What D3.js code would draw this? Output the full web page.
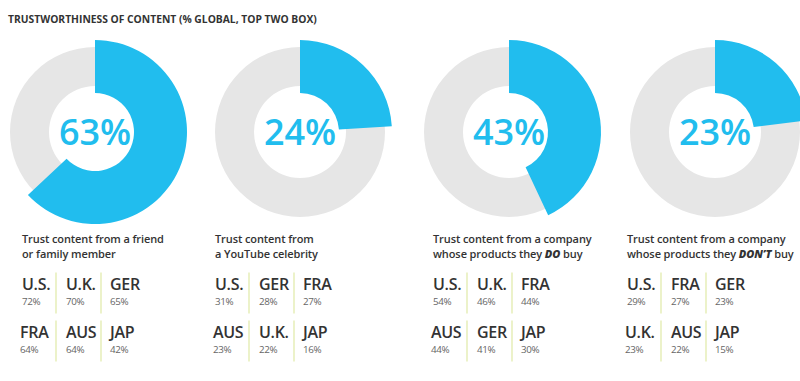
<!DOCTYPE html>
<html><head><meta charset="utf-8">
<script src="https://cdn.jsdelivr.net/npm/d3@7"></script>
<style>
html,body{margin:0;padding:0;background:#fff;}
svg{display:block;font-family:"Open Sans",sans-serif;}
</style></head>
<body><svg id="c" width="800" height="381"></svg>
<script>
const title = "TRUSTWORTHINESS OF CONTENT (% GLOBAL, TOP TWO BOX)";
const globalValues = [63, 24, 43, 23];
const captionLine1 = ["Trust content from a friend", "Trust content from", "Trust content from a company", "Trust content from a company"];
const captionLine2 = [["or family member"], ["a YouTube celebrity"], ["whose products they ", "DO", " buy"], ["whose products they ", "DON’T", " buy"]];
const countries = [
  ["U.S.","U.K.","GER","FRA","AUS","JAP"],
  ["U.S.","GER","FRA","AUS","U.K.","JAP"],
  ["U.S.","U.K.","FRA","AUS","GER","JAP"],
  ["U.S.","FRA","GER","U.K.","AUS","JAP"]
];
const countryValues = [
  [72,70,65,64,64,42],
  [31,28,27,23,22,16],
  [54,46,44,44,41,30],
  [29,27,23,23,22,15]
];

const BLUE = "#21bdee", GREY = "#e6e6e6", TXT = "#333333";
const svg = d3.select("#c");

svg.append("text").attr("x", 8).attr("y", 23)
  .attr("font-size", 10.3).attr("font-weight", 700).attr("fill", TXT)
  .text(title);

const centersX = [95, 300, 509, 715];
const cy = 132;
const panelX = [22, 215, 433, 627];
const angle = d3.scaleLinear().domain([0, 100]).range([0, 2 * Math.PI]);

const greyArc = d3.arc().innerRadius(46).outerRadius(85).startAngle(0).endAngle(2 * Math.PI);
const blueArc = d3.arc().innerRadius(39).outerRadius(92).startAngle(0);

globalValues.forEach((v, i) => {
  const g = svg.append("g").attr("transform", `translate(${centersX[i]},${cy})`);
  g.append("path").attr("d", greyArc()).attr("fill", GREY);
  g.append("path").attr("d", blueArc({endAngle: angle(v)})).attr("fill", BLUE);
  g.append("text").attr("x", 0).attr("y", 13).attr("text-anchor", "middle")
    .attr("font-size", 36).attr("font-weight", 600).attr("fill", BLUE)
    .text(v + "%");

  const px = panelX[i];
  const cap = svg.append("g").attr("font-size", 11).attr("font-weight", 600).attr("fill", TXT)
    .attr("letter-spacing", -0.1);
  cap.append("text").attr("x", px).attr("y", 243).text(captionLine1[i]);
  const t2 = cap.append("text").attr("x", px).attr("y", 258);
  captionLine2[i].forEach((s, k) => {
    const ts = t2.append("tspan").text(s);
    if (k === 1) ts.attr("font-weight", 800).attr("font-style", "italic");
  });

  const colOff = [0, 44, 88];
  const divOff = [34, 79];
  const rowY = [289.5, 337.5];
  [0, 1].forEach(r => {
    divOff.forEach(d => {
      svg.append("line").attr("x1", px + d).attr("x2", px + d)
        .attr("y1", rowY[r] - 17).attr("y2", rowY[r] + 24)
        .attr("stroke", "#dfeaa6").attr("stroke-width", 1.2);
    });
    [0, 1, 2].forEach(c => {
      const idx = r * 3 + c;
      const x = px + colOff[c] - (r === 1 && c === 0 ? 2 : 0);
      svg.append("text").attr("x", x).attr("y", rowY[r])
        .attr("font-size", 16).attr("font-weight", 600).attr("fill", TXT)
        .attr("letter-spacing", -0.3)
        .text(countries[i][idx]);
      svg.append("text").attr("x", x).attr("y", rowY[r] + 15.5)
        .attr("font-size", 9.8).attr("fill", "#666")
        .attr("letter-spacing", -0.4)
        .text(countryValues[i][idx] + "%");
    });
  });
});
</script></body></html>
